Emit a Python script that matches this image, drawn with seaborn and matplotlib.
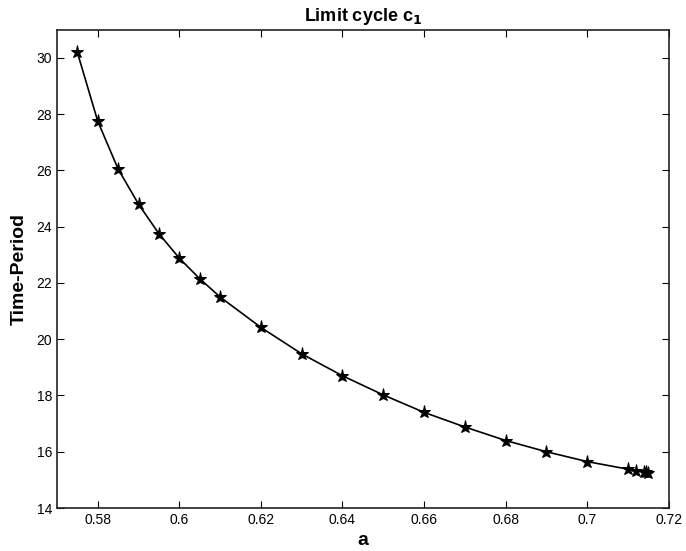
import pandas as pd
import seaborn as sns
import matplotlib
matplotlib.use("Agg")
import matplotlib.pyplot as plt

a_values = [0.575, 0.58, 0.585, 0.59, 0.595, 0.60, 0.605, 0.61, 0.62, 0.63,
            0.64, 0.65, 0.66, 0.67, 0.68, 0.69, 0.70, 0.71, 0.712, 0.714,
            0.7145, 0.715]
period = [30.2, 27.75, 26.05, 24.8, 23.75, 22.88, 22.15, 21.5, 20.42, 19.48,
          18.7, 18.02, 17.4, 16.88, 16.4, 16.0, 15.65, 15.38, 15.33, 15.29,
          15.27, 15.25]
x_ticks = [0.58, 0.6, 0.62, 0.64, 0.66, 0.68, 0.7, 0.72]
x_tick_labels = ["0.58", "0.6", "0.62", "0.64", "0.66", "0.68", "0.7", "0.72"]
y_ticks = [14, 16, 18, 20, 22, 24, 26, 28, 30]

df = pd.DataFrame({"a": a_values, "period": period})

sns.set_style("ticks")
plt.rcParams["font.family"] = ["Liberation Sans", "DejaVu Sans"]
plt.rcParams["text.color"] = "black"
plt.rcParams["axes.labelcolor"] = "black"
plt.rcParams["xtick.color"] = "black"
plt.rcParams["ytick.color"] = "black"

fig = plt.figure(figsize=(6.86, 5.51), dpi=100)
ax = fig.add_axes([0.083, 0.078, 0.892, 0.868])

sns.lineplot(data=df, x="a", y="period", color="black", linewidth=1.2,
             marker="*", markersize=9.5, markeredgecolor="black", ax=ax)

ax.set_xlim(0.57, 0.72)
ax.set_ylim(14, 31)
ax.set_xticks(x_ticks)
ax.set_xticklabels(x_tick_labels)
ax.set_yticks(y_ticks)
ax.tick_params(direction="in", top=True, right=True, labelsize=10, length=5)
for s in ax.spines.values():
    s.set_visible(True)
    s.set_linewidth(1.2)
    s.set_color("#222222")

ax.set_xlabel("a", fontsize=14, fontweight="bold", labelpad=4)
ax.set_ylabel("Time-Period", fontsize=14, fontweight="bold", labelpad=6)
ax.set_title(r"Limit cycle c$_\mathbf{1}$", fontsize=13, fontweight="bold", pad=6)

fig.savefig("out.png", dpi=100)
